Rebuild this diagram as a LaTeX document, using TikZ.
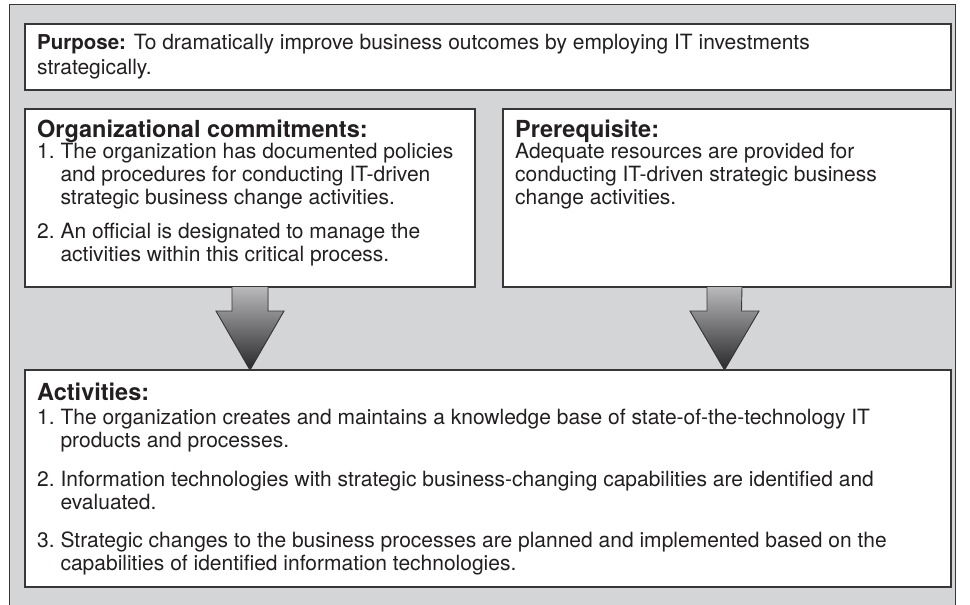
\documentclass[tikz,border=0pt]{standalone}
\usepackage{fontspec}
\setmainfont{TeX Gyre Heros}
\definecolor{bggray}{RGB}{212,213,215}
\definecolor{edge}{RGB}{55,55,57}
\definecolor{txt}{RGB}{35,31,32}
\definecolor{arrtop}{RGB}{185,185,187}
\definecolor{arrbot}{RGB}{40,40,42}
\newlength\hi
\newcommand\bodyfont{\fontsize{21}{23}\selectfont}
\begin{document}
\settowidth{\hi}{\bodyfont 1.\ }%
\begin{tikzpicture}[x=1pt,y=-1pt,
  panel/.style={draw=edge,line width=1.3pt,fill=white,inner sep=0pt,outer sep=0pt,anchor=north west},
  line/.style={anchor=base west,inner sep=0pt,text=txt,font=\bodyfont},
  hdr/.style={line,font=\fontsize{23.5}{25}\selectfont\bfseries},
  arrfill/.style={top color=arrtop,bottom color=arrbot},
  arredge/.style={draw=edge,line width=0.9pt,line join=miter}
]
\useasboundingbox (0,0) rectangle (970,605);
\clip (0,0) rectangle (970,605);
% outer frame
\node[draw=edge,line width=1.3pt,fill=bggray,inner sep=0pt,anchor=north west,
      minimum width=946pt,minimum height=620pt] (frame) at (9,4) {};
% panels
\node[panel,minimum width=926pt,minimum height=66pt] (purpose) at (25,24) {};
\node[panel,minimum width=450pt,minimum height=178pt] (org) at (25,109) {};
\node[panel,minimum width=448pt,minimum height=178pt] (prereq) at (503,109) {};
\node[panel,minimum width=926pt,minimum height=217pt] (act) at (25,370) {};
% purpose text
\node[line] (p1) at (37,49) {{\fontsize{20.5}{23}\selectfont\bfseries Purpose:} To dramatically improve business outcomes by employing IT investments};
\node[line] (p2) at (37,74) {strategically.};
% organizational commitments
\node[hdr] (oh) at (37,137) {Organizational commitments:};
\node[line] (o1a) at (37,158) {1.\ The organization has documented policies};
\node[line,xshift=\hi] (o1b) at (37,181) {and procedures for conducting IT-driven};
\node[line,xshift=\hi] (o1c) at (37,204) {strategic business change activities.};
\node[line] (o2a) at (37,238) {2.\ An official is designated to manage the};
\node[line,xshift=\hi] (o2b) at (37,261) {activities within this critical process.};
% prerequisite
\node[hdr] (ph) at (515,137) {Prerequisite:};
\node[line] (pr1) at (515,158) {Adequate resources are provided for};
\node[line] (pr2) at (515,181) {conducting IT-driven strategic business};
\node[line] (pr3) at (515,204) {change activities.};
% activities
\node[hdr] (ah) at (37,400) {Activities:};
\node[line] (a1a) at (37,424) {1.\ The organization creates and maintains a knowledge base of state-of-the-technology IT};
\node[line,xshift=\hi] (a1b) at (37,447) {products and processes.};
\node[line] (a2a) at (37,486) {2.\ Information technologies with strategic business-changing capabilities are identified and};
\node[line,xshift=\hi] (a2b) at (37,509) {evaluated.};
\node[line] (a3a) at (37,547) {3.\ Strategic changes to the business processes are planned and implemented based on the};
\node[line,xshift=\hi] (a3b) at (37,570) {capabilities of identified information technologies.};
% arrows
\coordinate (l1) at (232,287);
\coordinate (l2) at (268,287);
\coordinate (ltip) at (250,370);
\coordinate (r1) at (707,287);
\coordinate (r2) at (742,287);
\coordinate (rtip) at (724.5,370);
\fill[arrfill] (l1) -- ++(0,24) -- ++(-16,0) -- (ltip) -- ++(34,-59) -- ++(-16,0) -- (l2) -- cycle;
\draw[arredge] (l1) -- ++(0,24) -- ++(-16,0) -- (ltip) -- ++(34,-59) -- ++(-16,0) -- (l2);
\fill[arrfill] (r1) -- ++(0,24) -- ++(-17,0) -- (rtip) -- ++(34.5,-59) -- ++(-17.5,0) -- (r2) -- cycle;
\draw[arredge] (r1) -- ++(0,24) -- ++(-17,0) -- (rtip) -- ++(34.5,-59) -- ++(-17.5,0) -- (r2);
\end{tikzpicture}
\end{document}
